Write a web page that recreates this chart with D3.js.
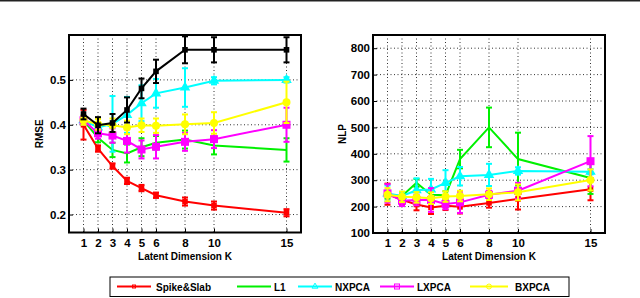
<!DOCTYPE html>
<html><head><meta charset="utf-8">
<script src="https://cdn.jsdelivr.net/npm/d3@7"></script>
<style>body{margin:0;background:#fff;} svg{display:block;font-family:"Liberation Sans",Arial,sans-serif;font-weight:bold;}</style>
</head><body><svg id="c" width="640" height="298"></svg>
<script>
const ks = [1,2,3,4,5,6,8,10,15];
const seriesNames = ["Spike&Slab","L1","NXPCA","LXPCA","BXPCA"];
const seriesColors = ["#ff0000","#00f000","#00ffff","#ff00ff","#ffff00","#000000"];
const seriesMarkers = ["smallsq","none","tri","sq","circ","smallsq"];

// RMSE panel
const rmseSpike = [0.400,0.347,0.308,0.275,0.259,0.243,0.229,0.220,0.204];
const rmseSpikeErr = [0.033,0.007,0.006,0.007,0.007,0.006,0.009,0.009,0.008];
const rmseL1 = [0.410,0.371,0.344,0.336,0.350,0.360,0.367,0.354,0.344];
const rmseL1Err = [0.010,0.010,0.016,0.020,0.020,0.015,0.020,0.020,0.026];
const rmseNX = [0.410,0.394,0.402,0.422,0.448,0.470,0.483,0.498,0.500];
const rmseNXErr = [0.008,0.010,0.062,0.040,0.040,0.032,0.043,0.008,0.006];
const rmseLX = [0.410,0.381,0.376,0.364,0.345,0.351,0.362,0.368,0.400];
const rmseLXErr = [0.010,0.012,0.016,0.026,0.020,0.026,0.020,0.020,0.038];
const rmseBX = [0.410,0.401,0.399,0.394,0.399,0.398,0.401,0.404,0.450];
const rmseBXErr = [0.010,0.012,0.015,0.015,0.015,0.016,0.022,0.024,0.046];
const rmseBlack = [0.424,0.399,0.404,0.433,0.481,0.519,0.567,0.567,0.567];
const rmseBlackErr = [0.012,0.018,0.020,0.028,0.022,0.026,0.030,0.028,0.028];
const rmseTicks = [0.2,0.3,0.4,0.5];

// NLP panel
const nlpSpike = [247,226,208,197,203,199,214,229,266];
const nlpSpikeErr = [40,20,22,25,16,25,18,40,42];
const nlpL1 = [245,240,290,245,243,380,500,380,308];
const nlpL1Err = [15,15,15,15,15,35,75,100,60];
const nlpNX = [250,240,262,265,290,315,320,335,332];
const nlpNXErr = [30,15,45,40,48,35,42,14,10];
const nlpLX = [250,222,225,225,210,216,245,260,372];
const nlpLXErr = [35,20,20,45,20,40,15,30,95];
const nlpBX = [245,237,235,232,238,240,247,254,301];
const nlpBXErr = [25,20,20,22,20,20,22,30,40];
const nlpTicks = [100,200,300,400,500,600,700,800];

const svg = d3.select("#c");
svg.append("rect").attr("x",0).attr("y",0).attr("width",640).attr("height",1.5).attr("fill","#222");

function marker(g, type, x, y, color, size, fill){
  if(type==="none") return;
  let s = size;
  const sw = fill?2:1;
  if(type==="smallsq"){ s = size*0.6; g.append("rect").attr("x",x-s/2).attr("y",y-s/2).attr("width",s).attr("height",s).attr("fill",fill?color:"none").attr("stroke",color).attr("stroke-width",sw); }
  if(type==="sq"){ g.append("rect").attr("x",x-s/2).attr("y",y-s/2).attr("width",s).attr("height",s).attr("fill",fill?color:"none").attr("stroke",color).attr("stroke-width",sw); }
  if(type==="tri"){ g.append("path").attr("d",d3.symbol(d3.symbolTriangle, s*s*0.6)()).attr("transform",`translate(${x},${y})`).attr("fill",fill?color:"none").attr("stroke",color).attr("stroke-width",sw); }
  if(type==="circ"){ g.append("circle").attr("cx",x).attr("cy",y).attr("r",s/2).attr("fill",fill?color:"none").attr("stroke",color).attr("stroke-width",sw); }
}

function panel(opts){
  const {left,right,top,bottom,yDomain,yTicks,yFmt,ylabel,ylabelX,series} = opts;
  const x = d3.scaleLinear().domain([0,16]).range([left,right]);
  const y = d3.scaleLinear().domain(yDomain).range([bottom,top]);
  const g = svg.append("g");
  g.selectAll(".gx").data(ks).enter().append("line")
    .attr("x1",d=>x(d)).attr("x2",d=>x(d)).attr("y1",top).attr("y2",bottom)
    .attr("stroke","#333").attr("stroke-width",1).attr("stroke-dasharray","1,2.5");
  g.selectAll(".gy").data(yTicks).enter().append("line")
    .attr("x1",left).attr("x2",right).attr("y1",d=>y(d)).attr("y2",d=>y(d))
    .attr("stroke","#333").attr("stroke-width",1).attr("stroke-dasharray","1,2.5");
  const ax = g.append("g").attr("transform",`translate(0,${bottom})`)
    .call(d3.axisBottom(x).tickValues(ks).tickSize(-4).tickPadding(6).tickFormat(d3.format("d")));
  const ay = g.append("g").attr("transform",`translate(${left},0)`)
    .call(d3.axisLeft(y).tickValues(yTicks).tickSize(-4).tickPadding(3).tickFormat(yFmt));
  [ax,ay].forEach(a=>{
    a.select(".domain").remove();
    a.selectAll("text").attr("font-size",11.5).attr("font-weight","bold").attr("fill","#000");
    a.selectAll("line").attr("stroke","#000");
  });
  series.forEach((s,i)=>{
    const sg = g.append("g");
    const color = seriesColors[s.ci];
    sg.append("path").datum(s.v).attr("fill","none").attr("stroke",color).attr("stroke-width",2)
      .attr("d",d3.line().x((d,j)=>x(ks[j])).y(d=>y(d)));
    s.v.forEach((v,j)=>{
      const xx = x(ks[j]), e = s.e[j];
      sg.append("line").attr("x1",xx).attr("x2",xx).attr("y1",y(v-e)).attr("y2",y(v+e)).attr("stroke",color).attr("stroke-width",2);
      [v-e,v+e].forEach(t=>sg.append("line").attr("x1",xx-3).attr("x2",xx+3).attr("y1",y(t)).attr("y2",y(t)).attr("stroke",color).attr("stroke-width",2));
      marker(sg, seriesMarkers[s.ci], xx, y(v), color, 6, true);
    });
  });
  g.append("rect").attr("x",left).attr("y",top).attr("width",right-left).attr("height",bottom-top)
    .attr("fill","none").attr("stroke","#000").attr("stroke-width",2);
  g.append("text").attr("x",(x(1)+x(15))/2).attr("y",bottom+27).attr("text-anchor","middle")
    .attr("font-size",10).text("Latent Dimension K");
  g.append("text").attr("transform",`translate(${ylabelX},${(top+bottom)/2}) rotate(-90)`)
    .attr("text-anchor","middle").attr("font-size",10).text(ylabel);
}

panel({left:69,right:301,top:35,bottom:232.5,yDomain:[0.16,0.6],yTicks:rmseTicks,yFmt:d3.format(".1f"),ylabel:"RMSE",ylabelX:43,
  series:[{v:rmseSpike,e:rmseSpikeErr,ci:0},{v:rmseL1,e:rmseL1Err,ci:1},{v:rmseNX,e:rmseNXErr,ci:2},{v:rmseLX,e:rmseLXErr,ci:3},{v:rmseBX,e:rmseBXErr,ci:4},{v:rmseBlack,e:rmseBlackErr,ci:5}]});
panel({left:373,right:605,top:35,bottom:233,yDomain:[100,850],yTicks:nlpTicks,yFmt:d3.format("d"),ylabel:"NLP",ylabelX:346,
  series:[{v:nlpSpike,e:nlpSpikeErr,ci:0},{v:nlpL1,e:nlpL1Err,ci:1},{v:nlpNX,e:nlpNXErr,ci:2},{v:nlpLX,e:nlpLXErr,ci:3},{v:nlpBX,e:nlpBXErr,ci:4}]});

const lg = svg.append("g");
lg.append("rect").attr("x",110).attr("y",277).attr("width",459).attr("height",19.5).attr("fill","#fff").attr("stroke","#000").attr("stroke-width",1);
const legX = [117,237,298,380,470];
const legTextX = [156,274,335,417,515];
seriesNames.forEach((n,i)=>{
  const c = seriesColors[i];
  const x0 = legX[i], x1 = legX[i]+ (i===4?38:34);
  lg.append("line").attr("x1",x0).attr("x2",x1).attr("y1",286.5).attr("y2",286.5).attr("stroke",c).attr("stroke-width",2);
  marker(lg, seriesMarkers[i], (x0+x1)/2, 286.5, c, 5, false);
  lg.append("text").attr("x",legTextX[i]).attr("y",290.5).attr("font-size",10).text(n);
});
</script></body></html>
